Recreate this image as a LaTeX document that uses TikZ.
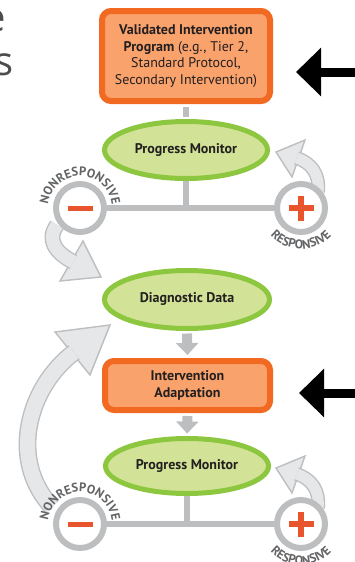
\documentclass[tikz,border=0pt]{standalone}
\usepackage{fontspec}
\setmainfont{PT Sans}
\newfontfamily\sidefont{Open Sans}
\usetikzlibrary{shapes.geometric,arrows.meta,decorations.text}
\pgfdeclarelayer{back}
\pgfsetlayers{back,main}
\definecolor{orline}{HTML}{F26A22}
\definecolor{orfill}{HTML}{F9A26C}
\definecolor{grline}{HTML}{8DC63F}
\definecolor{grfill}{HTML}{D2E397}
\definecolor{gyline}{HTML}{BCBEC0}
\definecolor{gyfill}{HTML}{E6E7E8}
\definecolor{gytext}{HTML}{636466}
\definecolor{signcol}{HTML}{E8542B}
\definecolor{sidecol}{HTML}{4D4D4F}
\definecolor{ink}{HTML}{231F20}
\def\lbl{\bfseries\fontsize{12.5}{12.5}\selectfont}

\begin{document}
\begin{tikzpicture}[x=1pt,y=-1pt]
\tikzstyle{box}=[rectangle, rounded corners=9pt, draw=orline, fill=orfill, line width=6pt, align=center, inner sep=0pt, text=ink, font=\fontsize{14}{16.8}\selectfont]
\tikzstyle{ell}=[ellipse, draw=grline, fill=grfill, line width=5pt, inner sep=0pt, text=ink, font=\bfseries\fontsize{14}{16}\selectfont]
\tikzstyle{ring}=[circle, draw=gyline, fill=white, line width=6pt, minimum size=48pt, inner sep=0pt]
\tikzstyle{link}=[draw=gyline, line width=6pt]
\tikzstyle{flow}=[draw=gyline, line width=10pt, -{Triangle[width=22pt,length=12pt]}]
\tikzstyle{point}=[draw=black, line width=9pt, -{Triangle[width=47pt,length=25pt]}]
\tikzstyle{head}=[draw=gyline, fill=gyfill, line width=1.4pt, line join=miter]
\tikzstyle{shaft}=[draw=gyline, double=gyfill, line width=1.4pt]
\tikzstyle{sign}=[draw=signcol, line width=5pt]
\tikzstyle{side}=[text=sidecol, inner sep=0pt, anchor=base east, font=\sidefont\fontsize{40}{40}\selectfont]
\useasboundingbox (0,0) rectangle (355,562);
%cut text
\node[side] (w1) at (6,31) {e};
\node[side] (w2) at (14,75) {s};
%boxes
\node[box, minimum width=168pt, minimum height=90pt] (prog) at (186,56) {{\bfseries Validated Intervention}\\{\bfseries Program} (e.g., Tier 2,\\Standard Protocol,\\Secondary Intervention)};
\node[ell, minimum width=163pt, minimum height=57pt] (pm1) at (186,150) {Progress Monitor};
\node[ell, minimum width=165pt, minimum height=58pt] (diag) at (187,299.5) {Diagnostic Data};
\node[box, font=\bfseries\fontsize{14}{16.5}\selectfont, minimum width=165pt, minimum height=49pt] (adapt) at (187.5,385.5) {Intervention\\Adaptation};
\node[ell, minimum width=163pt, minimum height=55pt] (pm2) at (187,466) {Progress Monitor};
\draw[link, shorten <=3pt, shorten >=2.5pt] (prog.south) -- (pm1.north);
\draw[flow, shorten <=2.5pt, shorten >=3pt] (diag.south) -- (adapt.north);
\draw[flow, shorten <=3pt, shorten >=2.5pt] (adapt.south) -- (pm2.north);
%pointers
\coordinate (q1) at (365,72);
\coordinate (q2) at (365,393);
\draw[point, shorten >=23pt] (q1) -- (prog.east |- q1);
\draw[point, shorten >=26pt] (q2) -- (adapt.east |- q2);
%loop 1
\def\u{0}
\node[ring] (m1) at (80,208+\u) {};
\node[ring] (p1) at (301,208+\u) {};
\draw[sign] (m1.center) ++(-12.5,0) -- ++(25,0);
\draw[sign, line width=6.5pt] (p1.center) ++(-12.5,0) -- ++(25,0) (p1.center) ++(0,-12.5) -- ++(0,25);
\path[decorate, decoration={text along path, text align=center, text color=gytext, text={|\lbl|NONRESPONSIVE}}] (m1.center) ++(-190:32) arc[start angle=-190, end angle=10, radius=32];
\path[decorate, decoration={text along path, text align=center, text color=gytext, text={|\lbl|RESPONSIVE}}] (p1.center) ++(-195:41) arc[start angle=-195, end angle=-345, radius=41];
\begin{pgfonlayer}{back}
\draw[link] (pm1.south) -- (pm1.south |- m1);
\draw[link] (m1) -- (p1);
\filldraw[head] (276,152+\u) -- (305,140+\u) -- (292,177+\u) -- cycle;
\draw[shaft, double distance=11pt] (318,192+\u) .. controls (320,175+\u) and (312,163+\u) .. (296.6,158+\u);
\filldraw[head] (101,277) -- (83,241) -- (60,281) -- cycle;
\draw[shaft, double distance=13pt] (57,225) .. controls (46,240) and (56,253) .. (73.3,262);
\end{pgfonlayer}
%loop 2
\def\u{316}
\node[ring] (m2) at (80,208+\u) {};
\node[ring] (p2) at (301,208+\u) {};
\draw[sign] (m2.center) ++(-12.5,0) -- ++(25,0);
\draw[sign, line width=6.5pt] (p2.center) ++(-12.5,0) -- ++(25,0) (p2.center) ++(0,-12.5) -- ++(0,25);
\path[decorate, decoration={text along path, text align=center, text color=gytext, text={|\lbl|NONRESPONSIVE}}] (m2.center) ++(-190:32) arc[start angle=-190, end angle=10, radius=32];
\path[decorate, decoration={text along path, text align=center, text color=gytext, text={|\lbl|RESPONSIVE}}] (p2.center) ++(-195:41) arc[start angle=-195, end angle=-345, radius=41];
\begin{pgfonlayer}{back}
\draw[link] (pm2.south) -- (pm2.south |- m2);
\draw[link] (m2) -- (p2);
\filldraw[head] (276,152+\u) -- (305,140+\u) -- (292,177+\u) -- cycle;
\draw[shaft, double distance=11pt] (318,192+\u) .. controls (320,175+\u) and (312,163+\u) .. (296.6,158+\u);
\filldraw[head] (110,325) -- (55,332) -- (90,375) -- cycle;
\draw[shaft, double distance=15pt] (52,507) .. controls (8,460) and (28,387) .. (74.1,352.3);
\end{pgfonlayer}
\end{tikzpicture}
\end{document}
